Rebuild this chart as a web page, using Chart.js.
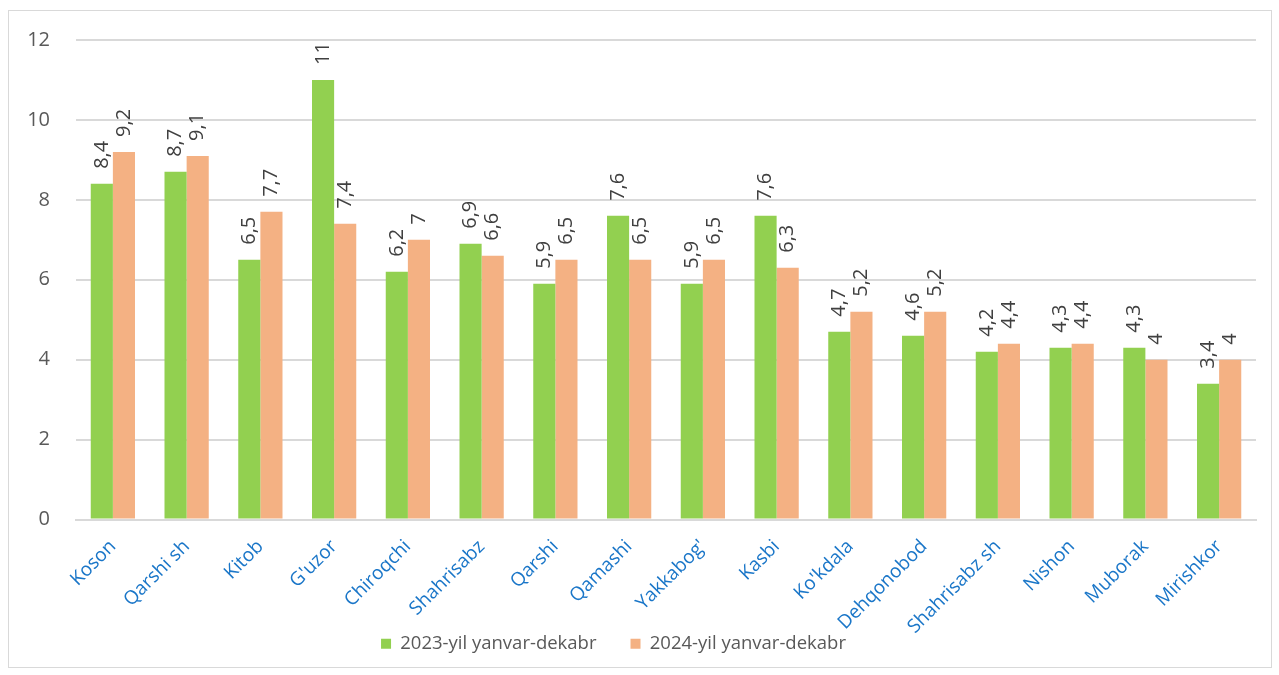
<!DOCTYPE html>
<html>
<head>
<meta charset="utf-8">
<script src="https://cdn.jsdelivr.net/npm/chart.js@4"></script>
<style>
    html, body { margin: 0; padding: 0; background: #fff; }
    #frame {
        position: absolute;
        left: 8px; top: 10px;
        width: 1262px; height: 656px;
        border: 1px solid #d9d9d9;
    }
</style>
</head>
<body>
<div id="frame"><canvas id="chart" width="1262" height="656"></canvas></div>
<script>
const districts = ["Koson", "Qarshi sh", "Kitob", "G'uzor", "Chiroqchi", "Shahrisabz", "Qarshi", "Qamashi",
    "Yakkabog'", "Kasbi", "Ko'kdala", "Dehqonobod", "Shahrisabz sh", "Nishon", "Muborak", "Mirishkor"];
const values2023 = [8.4, 8.7, 6.5, 11, 6.2, 6.9, 5.9, 7.6, 5.9, 7.6, 4.7, 4.6, 4.2, 4.3, 4.3, 3.4];
const values2024 = [9.2, 9.1, 7.7, 7.4, 7, 6.6, 6.5, 6.5, 6.5, 6.3, 5.2, 5.2, 4.4, 4.4, 4, 4];
const seriesNames = ["2023-yil yanvar-dekabr", "2024-yil yanvar-dekabr"];
const yTicks = [0, 2, 4, 6, 8, 10, 12];

const fontFamily = "'Open Sans', 'Noto Sans', sans-serif";

// draws the rotated value labels above every bar
const barValues = {
    id: "barValues",
    afterDatasetsDraw(chart) {
        const ctx = chart.ctx;
        ctx.save();
        ctx.font = "20px " + fontFamily;
        ctx.fillStyle = "#404040";
        ctx.textAlign = "left";
        ctx.textBaseline = "middle";
        chart.data.datasets.forEach((ds, i) => {
            chart.getDatasetMeta(i).data.forEach((bar, j) => {
                const txt = String(ds.data[j]).replace(".", ",");
                ctx.save();
                ctx.translate(bar.x, bar.y - 15);
                ctx.rotate(-Math.PI / 2);
                ctx.fillText(txt, 0, 0);
                ctx.restore();
            });
        });
        ctx.restore();
    }
};

// let the slanted x labels run under the legend (as in the original), and nudge the legend
const overlapLegend = {
    id: "overlapLegend",
    afterLayout(chart) {
        const x = chart.scales.x;
        x.bottom += 45;
        x.height += 45;
        chart.legend.left -= 19;
        chart.legend.right -= 19;
        chart.legend.top += 2;
        chart.legend.bottom += 2;
    }
};

const ctx = document.getElementById("chart").getContext("2d");
new Chart(ctx, {
    type: "bar",
    data: {
        labels: districts,
        datasets: [{
            label: seriesNames[0],
            data: values2023,
            backgroundColor: "#92d050"
        }, {
            label: seriesNames[1],
            data: values2024,
            backgroundColor: "#f4b183"
        }]
    },
    options: {
        responsive: false,
        animation: false,
        categoryPercentage: 0.6,
        barPercentage: 1,
        layout: { padding: { top: 29, right: 15, left: 0, bottom: 6 } },
        plugins: {
            tooltip: { enabled: false },
            legend: {
                position: "bottom",
                labels: {
                    boxWidth: 10,
                    boxHeight: 10,
                    padding: 10,
                    color: "#595959",
                    font: { family: fontFamily, size: 18.5 },
                    generateLabels(chart) {
                        const items = Chart.defaults.plugins.legend.labels.generateLabels(chart);
                        // wider gap between the two entries
                        items[0].text += "     ";
                        return items;
                    }
                }
            }
        },
        scales: {
            x: {
                grid: { display: false },
                border: { color: "#d9d9d9", width: 2 },
                ticks: {
                    color: "#1a76c8",
                    padding: 8,
                    font: { family: fontFamily, size: 19 },
                    maxRotation: 45,
                    minRotation: 45,
                    autoSkip: false
                },
                afterFit(scale) { scale.height = 103; }
            },
            y: {
                min: 0,
                max: 12,
                afterBuildTicks(scale) { scale.ticks = yTicks.map(v => ({ value: v })); },
                grid: { color: "#d9d9d9", lineWidth: 2, drawTicks: true, tickLength: 20, tickColor: "rgba(0,0,0,0)" },
                border: { display: false },
                ticks: {
                    color: "#595959",
                    padding: 6,
                    font: { family: fontFamily, size: 20 }
                },
                afterFit(scale) { scale.width = 67; }
            }
        }
    },
    plugins: [barValues, overlapLegend]
});
</script>
</body>
</html>
